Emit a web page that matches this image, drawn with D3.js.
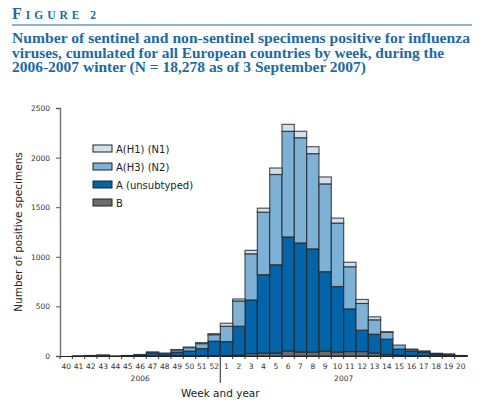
<!DOCTYPE html>
<html>
<head>
<meta charset="utf-8">
<script src="https://cdn.jsdelivr.net/npm/d3@7"></script>
<style>
  body { margin: 0; background: #fff; }
  svg { display: block; }
  .tick text { font-family: "DejaVu Sans", sans-serif; font-size: 7.5px; fill: #333; }
</style>
</head>
<body>
<div id="chart"></div>
<script>
//////////////////////////////////////////////////////////////
///////////////////////// Data ///////////////////////////////
//////////////////////////////////////////////////////////////

var weeks = ["40","41","42","43","44","45","46","47","48","49","50","51","52",
             "1","2","3","4","5","6","7","8","9","10","11","12","13","14","15","16","17","18","19","20"];

// stacked bottom to top: B, A (unsubtyped), A(H3) (N2), A(H1) (N1)
var typeB   = [0,0,1,2,0,1,2,3,3,5,5,5,5,
               5,10,25,30,30,50,40,40,50,40,45,45,30,15,10,5,5,3,2,1];
var aUnsub  = [0,3,3,6,2,3,10,25,20,35,45,70,145,
               140,290,540,790,890,1150,1100,1040,800,660,430,215,190,155,60,45,35,17,8,3];
var aH3N2   = [0,0,1,2,0,1,3,10,7,22,35,50,65,
               155,255,465,630,910,1065,1060,960,885,640,425,270,145,70,40,15,8,5,8,1];
var aH1N1   = [0,0,0,0,0,0,0,2,0,3,5,10,10,
               30,20,35,40,65,70,65,70,70,50,45,40,30,5,0,5,2,2,2,0];

var keys = ["B", "A (unsubtyped)", "A(H3) (N2)", "A(H1) (N1)"];
var colors = ["#6c6c6c", "#0563a8", "#7db1d6", "#cfe1ef"];
var yTicks = [0, 500, 1000, 1500, 2000, 2500];

var rows = weeks.map(function(w, i) {
  var r = {week: w};
  r[keys[0]] = typeB[i];
  r[keys[1]] = aUnsub[i];
  r[keys[2]] = aH3N2[i];
  r[keys[3]] = aH1N1[i];
  return r;
});

//////////////////////////////////////////////////////////////
////////////////////// Settings //////////////////////////////
//////////////////////////////////////////////////////////////

var width = 503, height = 403;
var plot = {left: 60, right: 467, top: 108, bottom: 356};
var blue = "#1c6aa6";

var svg = d3.select("#chart").append("svg")
    .attr("width", width)
    .attr("height", height);

//////////////////////////////////////////////////////////////
/////////////////////// Title ////////////////////////////////
//////////////////////////////////////////////////////////////

var fig = svg.append("text")
    .attr("x", 12).attr("y", 19)
    .attr("fill", blue)
    .style("font-family", "'Liberation Serif', 'DejaVu Serif', serif")
    .style("font-weight", "bold")
    .style("letter-spacing", "4px");
fig.append("tspan").style("font-size", "16px").text("F");
fig.append("tspan").style("font-size", "11.5px").text("IGURE 2");

svg.append("line")
    .attr("x1", 12).attr("x2", 472)
    .attr("y1", 25).attr("y2", 25)
    .attr("stroke", blue).attr("stroke-width", 1.2);

var titleLines = [
  "Number of sentinel and non-sentinel specimens positive for influenza",
  "viruses, cumulated for all European countries by week, during the",
  "2006-2007 winter (N = 18,278 as of 3 September 2007)"
];
var titleWidths = [458, 432, 354];

svg.selectAll(".title").data(titleLines).enter()
  .append("text")
    .attr("class", "title")
    .attr("x", 12)
    .attr("y", function(d, i) { return 43 + i * 14.5; })
    .attr("fill", blue)
    .attr("textLength", function(d, i) { return titleWidths[i]; })
    .attr("lengthAdjust", "spacingAndGlyphs")
    .style("font-family", "'Liberation Serif', 'DejaVu Serif', serif")
    .style("font-weight", "bold")
    .style("font-size", "15px")
    .text(function(d) { return d; });

//////////////////////////////////////////////////////////////
/////////////////// Scales & Axes ////////////////////////////
//////////////////////////////////////////////////////////////

var x = d3.scaleBand().domain(weeks).range([plot.left, plot.right]).padding(0);
var y = d3.scaleLinear().domain([0, 2500]).range([plot.bottom, plot.top]);

var stack = d3.stack().keys(keys);
var series = stack(rows);

// bars
svg.append("g").selectAll("g")
    .data(series).enter()
  .append("g")
    .attr("fill", function(d, i) { return colors[i]; })
  .selectAll("rect")
    .data(function(d) { return d; }).enter()
  .append("rect")
    .filter(function(d) { return d[1] - d[0] > 0; })
    .attr("x", function(d) { return x(d.data.week); })
    .attr("y", function(d) { return y(d[1]); })
    .attr("width", x.bandwidth())
    .attr("height", function(d) { return y(d[0]) - y(d[1]); })
    .attr("stroke", "#222")
    .attr("stroke-opacity", 0.75)
    .attr("stroke-width", 1.2);

// y axis
var yAxis = svg.append("g")
    .attr("transform", "translate(" + plot.left + ",0)")
    .call(d3.axisLeft(y).tickValues(yTicks).tickFormat(d3.format("d")).tickSize(4).tickPadding(6));
yAxis.select(".domain").attr("stroke", "#777").attr("stroke-width", 1.5);
yAxis.selectAll(".tick line").attr("stroke", "#555");

// x axis
var xAxis = svg.append("g")
    .attr("transform", "translate(0," + plot.bottom + ")")
    .call(d3.axisBottom(x).tickSize(0).tickPadding(8));
xAxis.select(".domain").attr("stroke", "#222").attr("stroke-width", 1.2);

// tick marks between bars
svg.append("g").selectAll("line")
    .data(weeks).enter()
  .append("line")
    .attr("x1", function(d) { return x(d); })
    .attr("x2", function(d) { return x(d); })
    .attr("y1", plot.bottom)
    .attr("y2", plot.bottom + 3)
    .attr("stroke", "#333");

// year separator
var sepX = x("1");
svg.append("line")
    .attr("x1", sepX).attr("x2", sepX)
    .attr("y1", plot.bottom).attr("y2", plot.bottom + 27)
    .attr("stroke", "#555").attr("stroke-width", 1.3);

var small = "'DejaVu Sans', sans-serif";
svg.append("text")
    .attr("x", (x("40") + x("52") + x.bandwidth()) / 2)
    .attr("y", 381)
    .attr("text-anchor", "middle")
    .style("font-family", small).style("font-size", "7.5px").attr("fill", "#333")
    .text("2006");
svg.append("text")
    .attr("x", (x("1") + x("20") + x.bandwidth()) / 2)
    .attr("y", 381)
    .attr("text-anchor", "middle")
    .style("font-family", small).style("font-size", "7.5px").attr("fill", "#333")
    .text("2007");

svg.append("text")
    .attr("x", 181)
    .attr("y", 397)
    .style("font-family", small).style("font-size", "10.5px").attr("fill", "#222")
    .text("Week and year");

svg.append("text")
    .attr("transform", "translate(22," + ((plot.top + plot.bottom) / 2) + ") rotate(-90)")
    .attr("text-anchor", "middle")
    .style("font-family", small).style("font-size", "10.5px").attr("fill", "#222")
    .text("Number of positive specimens");

//////////////////////////////////////////////////////////////
/////////////////////// Legend ///////////////////////////////
//////////////////////////////////////////////////////////////

var legendKeys = keys.slice().reverse();
var legendColors = colors.slice().reverse();

var legend = svg.append("g").selectAll("g")
    .data(legendKeys).enter()
  .append("g")
    .attr("transform", function(d, i) { return "translate(93," + (145 + i * 18) + ")"; });

legend.append("rect")
    .attr("width", 19).attr("height", 7)
    .attr("fill", function(d, i) { return legendColors[i]; })
    .attr("stroke", "#222").attr("stroke-width", 1);

legend.append("text")
    .attr("x", 23).attr("y", 7.5)
    .style("font-family", small).style("font-size", "10px").attr("fill", "#222")
    .text(function(d) { return d; });
</script>
</body>
</html>
